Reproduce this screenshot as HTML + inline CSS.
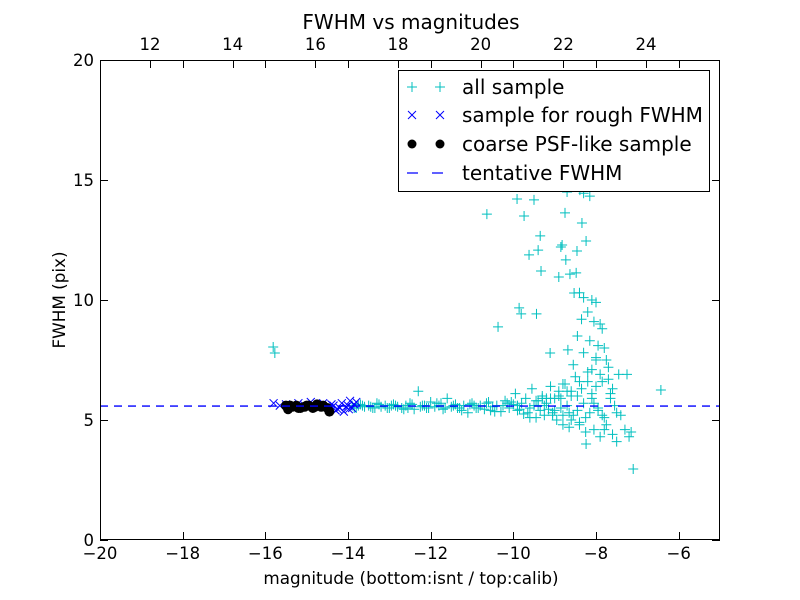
<!DOCTYPE html>
<html><head><meta charset="utf-8"><style>
body{margin:0;background:#fff;}
svg{display:block;font-family:"DejaVu Sans","Liberation Sans",sans-serif;}
</style></head><body>
<svg id="chart" width="800" height="600">
<rect x="0" y="0" width="800" height="600" fill="#fff"/>
<text x="411" y="29" font-size="20" text-anchor="middle">FWHM vs magnitudes</text>
<text x="411" y="584" font-size="16.8" text-anchor="middle">magnitude (bottom:isnt / top:calib)</text>
<text x="65" y="300" font-size="16.8" text-anchor="middle" transform="rotate(-90 65 300)">FWHM (pix)</text>
<g id="marks"></g>
<g id="axes"></g>
<g>
<rect x="398.5" y="70.5" width="311" height="121" fill="#fff" stroke="#000"/>
<g>
<path d="M407 87h10M412 82v10M435 87h10M440 82v10" stroke="#00bfbf" stroke-width="1"/>
<text x="462" y="94" font-size="20">all sample</text></g>
<g>
<path d="M408 111l8 8M416 111l-8 8M436 111l8 8M444 111l-8 8" stroke="#0000ff" stroke-width="1"/>
<text x="462" y="122" font-size="20">sample for rough FWHM</text></g>
<g>
<circle cx="412" cy="144" r="4.5" fill="#000"/><circle cx="440" cy="144" r="4.5" fill="#000"/>
<text x="462" y="151" font-size="20">coarse PSF-like sample</text></g>
<g>
<path d="M407 173h11M432 173h11" stroke="#0000ff" stroke-width="1.3"/>
<text x="462" y="180" font-size="20">tentative FWHM</text></g>
</g>
</svg>
<script>
const allMag=[-15.81,-15.77,-10.64,-9.91,-9.74,-9.50,-9.35,-9.62,-9.40,-9.33,-8.75,-8.82,-8.85,-8.34,-8.24,-8.46,-8.73,-8.63,-8.90,-8.48,-8.39,-8.30,-8.15,-8.70,-9.86,-9.81,-9.44,-10.37,-9.11,-8.68,-8.53,-6.43,-7.1,-8.24,
-13.9,-13.8,-13.7,-13.6,-13.5,-13.4,-13.3,-13.2,-13.1,-13.0,-12.9,-12.8,-12.7,-12.6,-12.5,-12.4,-12.3,-12.2,-12.1,-12.0,-11.9,-11.8,-11.7,-11.6,-11.5,-11.4,-11.3,-11.2,-11.1,-11.0,-10.9,-10.8,-10.7,-10.6,-10.5,-10.4,-10.3,-10.2,-10.1,-10.0,-9.95,-9.9,-9.8,-9.75,-9.7,-9.6,-9.55,-9.5,-9.45,-9.4,-9.35,-9.3,-9.25,-9.2,-9.15,-9.1,-9.05,-9.0,-8.95,-8.9,-8.85,-8.8,-8.75,-8.7,-8.65,-8.6,-8.55,-8.5,-8.45,-8.4,-8.35,-8.3,-8.25,-8.2,-8.15,-8.1,-8.05,-8.0,-7.95,-7.9,-7.85,-7.8,-7.75,-7.7,-7.65,-7.6,-7.55,-7.5,-7.45,-7.4,-7.3,-7.25,-7.2,-7.15,
-8.4,-8.3,-8.1,-8.0,-8.2,-8.35,-8.05,-7.9,-7.85,-8.45,-8.15,-7.95,-7.8,-8.3,-8.0,-7.75,-8.55,-8.1,-7.9,-7.7,-8.4,-8.0,-7.6,-8.9,-8.6,-9.2,-8.8,
-13.85,-13.65,-13.45,-13.25,-13.05,-12.85,-12.65,-12.45,-12.25,-12.05,-11.85,-11.65,-11.45,-11.25,-11.05,-10.85,-10.65,-10.45,-10.25,-10.05,-9.85,-9.65,-9.45,-9.25,-9.05,-8.85,-8.65,-8.45,-8.25,-8.05,-7.85,-7.65,
-13.75,-13.35,-12.95,-12.55,-12.15,-11.75,-11.35,-10.95,-10.55,-10.15,-9.9,-9.6,-9.3,-9.0,-8.7,-8.4,-8.1,-7.8,-7.5,-8.6,-8.2,-7.95,-8.8,-9.1,-9.4];
const allFwhm=[8.04,7.79,13.58,14.21,13.5,14.17,12.67,11.88,12.08,11.21,13.63,12.29,12.21,13.21,12.46,12.04,11.67,11.08,10.96,11.13,14.58,14.45,14.33,14.5,9.67,9.42,9.42,8.88,7.79,7.92,10.29,6.25,2.96,4.0,
5.6,5.5,5.65,5.55,5.6,5.5,5.7,5.55,5.6,5.5,5.65,5.55,5.5,5.6,5.7,5.45,6.2,5.6,5.5,5.75,5.55,5.6,5.45,5.9,5.55,5.65,5.5,5.6,5.3,5.7,5.5,5.6,5.45,5.75,5.55,5.6,5.35,5.8,5.5,5.65,6.1,5.4,5.7,5.25,5.9,5.5,6.3,5.6,5.1,5.8,5.4,6.0,5.2,5.7,5.45,6.4,5.3,5.9,5.0,6.2,5.5,4.8,6.5,5.6,4.7,6.0,5.2,6.8,5.4,4.9,6.3,5.7,4.5,7.0,5.3,6.1,4.6,7.5,5.5,4.3,6.6,5.1,4.8,7.2,5.9,4.4,5.6,4.1,6.9,5.2,4.6,6.9,4.3,4.5,
10.3,10.1,10.0,9.9,9.5,9.2,9.1,9.0,8.8,8.5,8.3,8.1,8.0,7.8,7.6,7.5,7.3,7.1,6.9,6.7,6.6,6.4,6.3,6.0,6.2,5.9,6.5,
5.5,5.6,5.55,5.65,5.5,5.6,5.45,5.65,5.55,5.5,5.7,5.5,5.6,5.4,5.65,5.5,5.7,5.35,5.6,5.75,5.45,5.3,5.8,5.6,5.2,5.9,5.3,6.0,5.1,5.7,5.2,6.1,
5.6,5.5,5.6,5.5,5.6,5.7,5.5,5.6,5.4,5.7,5.6,5.1,5.9,5.4,6.2,4.8,5.9,4.6,5.3,5.0,6.6,5.4,5.2,5.9,5.6];
const roughMag=[-15.8,-15.65,-15.5,-15.35,-15.2,-15.05,-14.9,-14.75,-14.6,-14.45,-14.35,-14.25,-14.15,-14.05,-13.95,-13.9,-13.85,-13.8,-14.3,-14.1,-14.0,-14.2,-14.4,-13.98];
const roughFwhm=[5.7,5.6,5.65,5.55,5.7,5.6,5.75,5.55,5.7,5.5,5.6,5.45,5.7,5.55,5.8,5.5,5.65,5.75,5.4,5.35,5.6,5.5,5.65,5.45];
const psfMag=[-15.5,-15.45,-15.35,-15.25,-15.15,-15.05,-14.95,-14.85,-14.75,-14.65,-14.5,-14.45,-15.4,-15.2,-15.0,-14.8,-14.6];
const psfFwhm=[5.6,5.45,5.55,5.6,5.5,5.55,5.6,5.5,5.65,5.55,5.5,5.35,5.6,5.5,5.6,5.55,5.6];
const tentativeFwhm=5.58;
const xTicks=[-20,-18,-16,-14,-12,-10,-8,-6];
const yTicks=[0,5,10,15,20];
const topTicks=[12,14,16,18,20,22,24];
const topOffset=30.79;

const NS="http://www.w3.org/2000/svg";
const X0=100,X1=720,Y0=540,Y1=60;
const sx=v=>X0+(v+20)/15*(X1-X0);
const sy=v=>Y0-v/20*(Y0-Y1);
const marks=document.getElementById('marks');
const axes=document.getElementById('axes');
function mk(tag,attrs,parent){const e=document.createElementNS(NS,tag);for(const k in attrs)e.setAttribute(k,attrs[k]);parent.appendChild(e);return e;}
const clip=mk('clipPath',{id:'pc'},marks);mk('rect',{x:X0,y:Y1,width:X1-X0,height:Y0-Y1},clip);
const g=mk('g',{'clip-path':'url(#pc)'},marks);
for(let i=0;i<allMag.length;i++){const x=sx(allMag[i]),y=sy(allFwhm[i]);
const p=mk('path',{d:`M${x-5} ${y}h10M${x} ${y-5}v10`,stroke:'#00bfbf','stroke-width':1},g);

}
for(let i=0;i<roughMag.length;i++){const x=sx(roughMag[i]),y=sy(roughFwhm[i]);
const p=mk('path',{d:`M${x-4} ${y-4}l8 8M${x+4} ${y-4}l-8 8`,stroke:'#0000ff','stroke-width':1},g);

}
for(let i=0;i<psfMag.length;i++){
const c=mk('circle',{cx:sx(psfMag[i]),cy:sy(psfFwhm[i]),r:5,fill:'#000'},g);

}
const tl=mk('line',{x1:X0,x2:X1,y1:sy(tentativeFwhm),y2:sy(tentativeFwhm),stroke:'#0000ff','stroke-width':1.3,'stroke-dasharray':'8 6'},g);


const fr=mk('rect',{x:X0+.5,y:Y1+.5,width:X1-X0-1,height:Y0-Y1-1,fill:'none',stroke:'#000','stroke-width':1},axes);


xTicks.forEach(v=>{const x=Math.round(sx(v))+.5;
mk('path',{d:`M${x} ${Y0}v-8M${x} ${Y1}v8`,stroke:'#000'},axes);
const t=mk('text',{x:sx(v),y:559,'font-size':16.5,'text-anchor':'middle'},axes);t.textContent=(v<0?'\u2212'+(-v):v);

});
yTicks.forEach(v=>{const y=Math.round(sy(v))+.5;
mk('path',{d:`M${X0} ${y}h8M${X1} ${y}h-8`,stroke:'#000'},axes);
const t=mk('text',{x:94,y:sy(v)+6,'font-size':16.5,'text-anchor':'end'},axes);t.textContent=v;

});
topTicks.forEach(v=>{const x=Math.round(sx(v-topOffset))+.5;
mk('path',{d:`M${x} ${Y1}v8`,stroke:'#000'},axes);
const t=mk('text',{x:sx(v-topOffset),y:50,'font-size':16.5,'text-anchor':'middle'},axes);t.textContent=v;

});
</script>
</body></html>
